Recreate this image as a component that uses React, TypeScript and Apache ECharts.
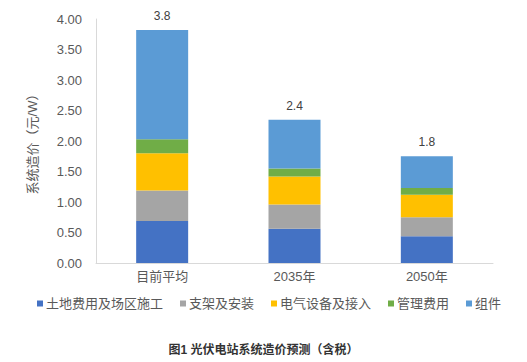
import React, { useEffect, useRef } from "react";
import * as echarts from "echarts";

const categories = ["目前平均", "2035年", "2050年"];
const landCost = [0.69, 0.56, 0.44];
const bracketCost = [0.5, 0.4, 0.31];
const electricalCost = [0.61, 0.46, 0.37];
const managementCost = [0.23, 0.13, 0.11];
const moduleCost = [1.79, 0.8, 0.52];
const totalLabels = ["3.8", "2.4", "1.8"];
const seriesNames = ["土地费用及场区施工", "支架及安装", "电气设备及接入", "管理费用", "组件"];
const seriesColors = ["#4472C4", "#A5A5A5", "#FFC000", "#70AD47", "#5B9BD5"];

const FONT = "'Liberation Sans', 'Noto Sans CJK SC', sans-serif";

export default function App() {
  const ref = useRef<HTMLDivElement>(null);
  useEffect(() => {
    if (!ref.current) return;
    const chart = echarts.init(ref.current, undefined, { renderer: "svg" });
    const values = [landCost, bracketCost, electricalCost, managementCost, moduleCost];
    const series = values.map((d, i) => ({
      name: seriesNames[i],
      type: "bar",
      stack: "total",
      barWidth: 52,
      data: d,
      itemStyle: { color: seriesColors[i] },
      label:
        i === values.length - 1
          ? {
              show: true,
              position: "top",
              distance: 8,
              formatter: (p: any) => totalLabels[p.dataIndex],
              color: "#404040",
              fontSize: 12,
              fontFamily: FONT,
            }
          : { show: false },
    }));
    chart.setOption({
      animation: false,
      backgroundColor: "#ffffff",
      title: {
        text: "图1 光伏电站系统造价预测（含税）",
        left: "center",
        top: 339,
        textStyle: { fontSize: 12, fontWeight: "bold", color: "#333", fontFamily: FONT },
      },
      legend: {
        data: seriesNames,
        top: 292,
        left: 32,
        icon: "rect",
        itemWidth: 6,
        itemHeight: 6,
        itemGap: 17,
        textStyle: { fontSize: 13, color: "#595959", fontFamily: FONT, padding: [0, 0, 0, -2] },
      },
      grid: { left: 96, right: 34, top: 19, bottom: 99, containLabel: false },
      xAxis: {
        type: "category",
        data: categories,
        axisLine: { lineStyle: { color: "#d9d9d9" } },
        axisTick: { show: false },
        axisLabel: { color: "#595959", fontSize: 13, margin: 7, fontFamily: FONT },
      },
      yAxis: {
        type: "value",
        min: 0,
        max: 4,
        interval: 0.5,
        name: "系统造价（元/W）",
        nameLocation: "middle",
        nameGap: 57,
        nameTextStyle: { color: "#595959", fontSize: 13, fontFamily: FONT },
        axisLine: { show: true, lineStyle: { color: "#d9d9d9" } },
        axisTick: { show: false },
        splitLine: { show: false },
        axisLabel: {
          color: "#595959",
          fontSize: 13,
          margin: 14,
          fontFamily: FONT,
          formatter: (v: number) => v.toFixed(2),
        },
      },
      series,
    });
    return () => chart.dispose();
  }, []);
  return <div ref={ref} style={{ width: 527, height: 362, position: "absolute", left: 0, top: 0 }} />;
}
